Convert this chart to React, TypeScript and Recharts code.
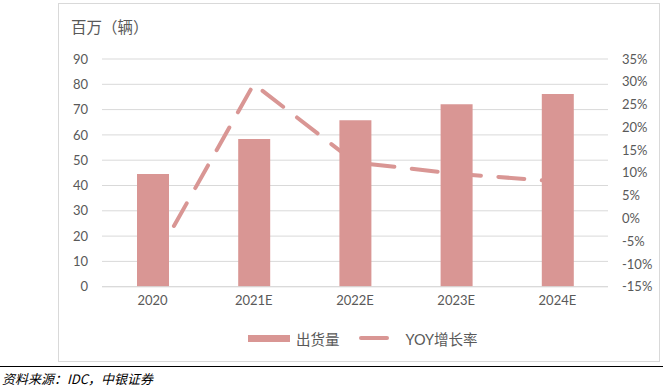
import React from 'react';
import { ComposedChart, Bar, Line, XAxis, YAxis, CartesianGrid } from 'recharts';

const categories = ['2020', '2021E', '2022E', '2023E', '2024E'];
const shipments = [44.5, 58.4, 65.8, 72.1, 76.2];
const yoyGrowth = [-10, 29.5, 12.3, 9.8, 8.1];
const leftTicks = [0, 10, 20, 30, 40, 50, 60, 70, 80, 90];
const rightTicks = [-15, -10, -5, 0, 5, 10, 15, 20, 25, 30, 35];
const title = '百万（辆）';
const barName = '出货量';
const lineName = 'YOY增长率';
const source = '资料来源：IDC，中银证券';

const data = categories.map((c, i) => ({ name: c, shipments: shipments[i], yoy: yoyGrowth[i] }));

const COLOR = '#D99694';
const TEXT = '#595959';
const FONT = "Lato, 'Noto Sans CJK SC', sans-serif";

export default function App() {
  const tickStyle = { fill: TEXT, fontSize: 13, fontFamily: FONT };
  return (
    <div style={{ position: 'absolute', left: 0, top: 0, width: 663, height: 390, background: '#fff', overflow: 'hidden' }}>
      <div style={{ position: 'absolute', left: 58, top: 3, width: 600, height: 357, border: '1px solid #d9d9d9', boxSizing: 'content-box' }} />
      <div style={{ position: 'absolute', left: 71, top: 17, fontSize: 15.5, color: TEXT, fontFamily: FONT, lineHeight: '20px', whiteSpace: 'nowrap' }}>{title}</div>
      <div style={{ position: 'absolute', left: 0, top: 0 }}>
        <ComposedChart width={663} height={390} data={data} margin={{ top: 59, right: 0, left: 0, bottom: 73.3 }}>
          <CartesianGrid yAxisId="left" vertical={false} stroke="#d9d9d9" strokeWidth={1} />
          <XAxis dataKey="name" height={30} tickLine={false} axisLine={{ stroke: '#d9d9d9' }} tickSize={0} tickMargin={9} tick={tickStyle} interval={0} />
          <YAxis yAxisId="left" orientation="left" width={102} domain={[0, 90]} ticks={leftTicks} interval={0} axisLine={false} tickLine={false} tickSize={0} tickMargin={14} tick={tickStyle} />
          <YAxis yAxisId="right" orientation="right" width={55} domain={[-15, 35]} ticks={rightTicks} interval={0} axisLine={false} tickLine={false} tickSize={0} tickMargin={14} tick={{ ...tickStyle, textAnchor: 'start' }} tickFormatter={(v: number) => `${v}%`} />
          <Line yAxisId="right" dataKey="yoy" type="linear" stroke={COLOR} strokeWidth={4} strokeDasharray="26 17.5" strokeLinecap="round" dot={false} activeDot={false} isAnimationActive={false} zIndex={200} />
          <Bar yAxisId="left" dataKey="shipments" fill={COLOR} barSize={32} isAnimationActive={false} zIndex={300} />
        </ComposedChart>
      </div>
      <div style={{ position: 'absolute', left: 248, top: 330, height: 16, display: 'flex', alignItems: 'center', fontFamily: FONT, fontSize: 14.5, color: TEXT, whiteSpace: 'nowrap' }}>
        <span style={{ display: 'inline-block', width: 42, height: 7, background: COLOR, marginRight: 6 }} />
        <span>{barName}</span>
        <span style={{ display: 'inline-block', width: 30, height: 4, background: COLOR, borderRadius: 2, marginLeft: 19, marginRight: 17 }} />
        <span>{lineName}</span>
      </div>
      <div style={{ position: 'absolute', left: 0, top: 366, width: 663, height: 1, background: '#000' }} />
      <div style={{ position: 'absolute', left: 2, top: 370, fontSize: 13, fontStyle: 'italic', color: '#000', fontFamily: "'Noto Sans CJK SC', sans-serif", lineHeight: '17px', whiteSpace: 'nowrap' }}>{source}</div>
    </div>
  );
}
